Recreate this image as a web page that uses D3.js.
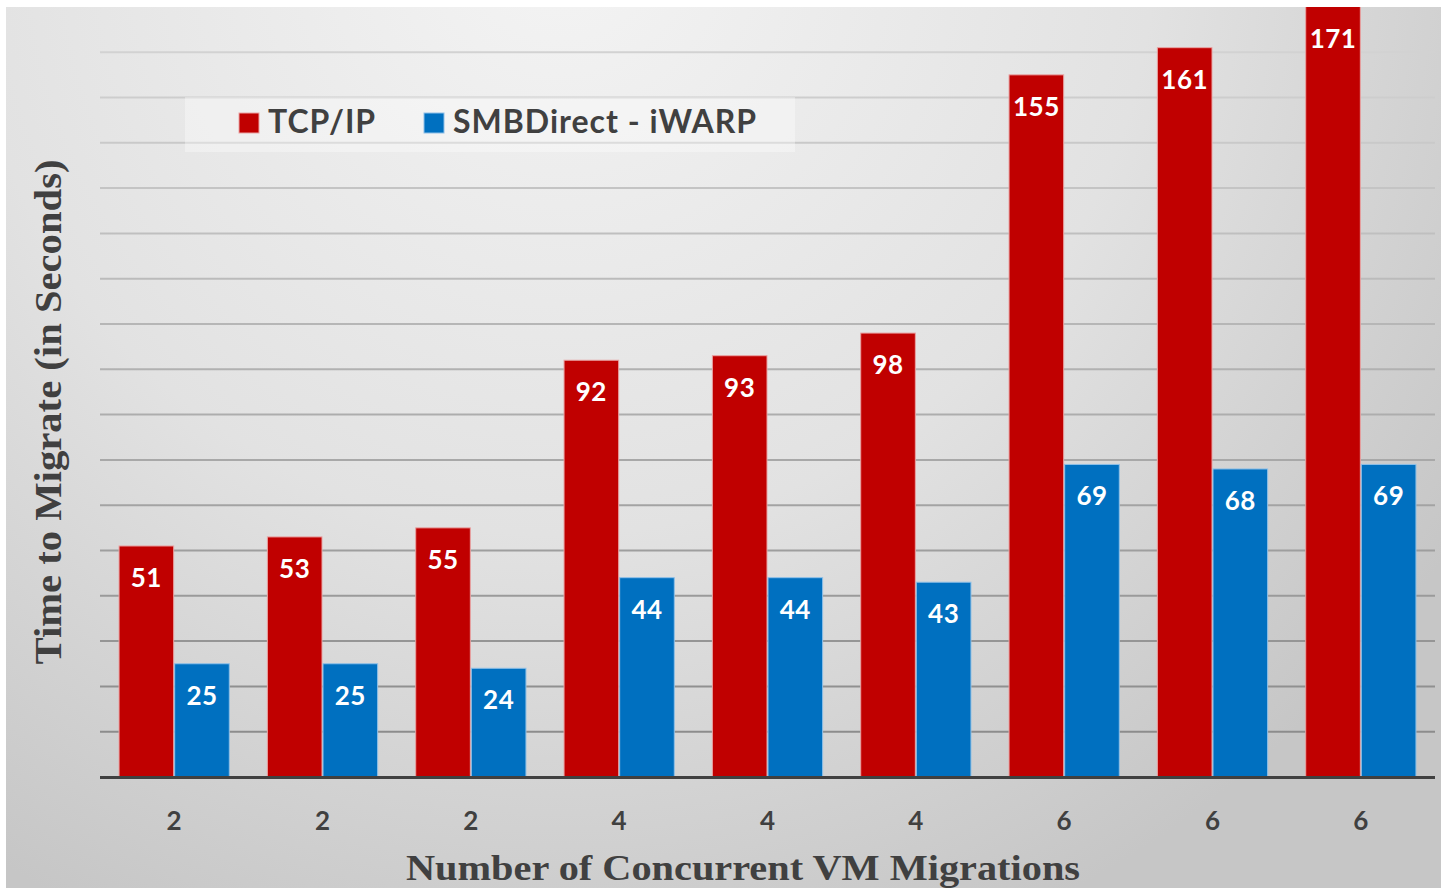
<!DOCTYPE html>
<html>
<head>
<meta charset="utf-8">
<script src="https://cdn.jsdelivr.net/npm/d3@7"></script>
<style>
  body { margin: 0; background: #fff; }
  svg { display: block; }
</style>
</head>
<body>
<div id="chart"></div>
<script>
// data
const categories = ["2", "2", "2", "4", "4", "4", "6", "6", "6"];
const tcpValues = [51, 53, 55, 92, 93, 98, 155, 161, 171];
const smbValues = [25, 25, 24, 44, 44, 43, 69, 68, 69];
const seriesNames = ["TCP/IP", "SMBDirect - iWARP"];
const seriesColors = ["#C00000", "#0070C0"];
const seriesStrokes = ["#e9a3a3", "#8fc0e8"];

const width = 1447, height = 888;
const left = 100, right = 1435, bottom = 777;

const svg = d3.select("#chart")
    .append("svg")
    .attr("width", width)
    .attr("height", height);

const defs = svg.append("defs");
const bg = defs.append("radialGradient")
    .attr("id", "bg")
    .attr("gradientUnits", "userSpaceOnUse")
    .attr("cx", 560).attr("cy", -60)
    .attr("r", 1080);
bg.append("stop").attr("offset", 0).attr("stop-color", "#f4f4f4");
bg.append("stop").attr("offset", 0.55).attr("stop-color", "#e2e2e2");
bg.append("stop").attr("offset", 1).attr("stop-color", "#c6c6c6");

defs.append("clipPath").attr("id", "area")
    .append("rect")
    .attr("x", 6).attr("y", 7)
    .attr("width", 1435).attr("height", height - 7);

svg.append("rect")
    .attr("x", 6).attr("y", 7)
    .attr("width", 1435).attr("height", height - 7)
    .attr("fill", "url(#bg)");

const g = svg.append("g").attr("clip-path", "url(#area)");

const x0 = d3.scaleBand()
    .domain(d3.range(categories.length))
    .range([left, right])
    .paddingInner(0.25)
    .paddingOuter(0.125);

const x1 = d3.scaleBand()
    .domain([0, 1])
    .range([0, x0.bandwidth()]);

const y = d3.scaleLinear()
    .domain([0, 170])
    .range([bottom, bottom - 170 * 4.53]);

// gridlines
const gridColor = d3.interpolateRgb("#878787", "#d2d2d2");
g.append("g")
    .selectAll("line")
    .data(y.ticks(17).filter(d => d > 0 && d < 170))
    .enter()
    .append("line")
    .attr("x1", left).attr("x2", right)
    .attr("y1", d => y(d)).attr("y2", d => y(d))
    .attr("stroke", d => gridColor(d / 160))
    .attr("stroke-width", 2);

// legend box
svg.append("rect")
    .attr("x", 185).attr("y", 97)
    .attr("width", 610).attr("height", 55)
    .attr("fill", "rgba(255,255,255,0.35)");

const rows = categories.map((c, i) => ({ i: i, values: [tcpValues[i], smbValues[i]] }));

const groups = g.selectAll("g.grp")
    .data(rows)
    .enter()
    .append("g")
    .attr("class", "grp")
    .attr("transform", d => `translate(${x0(d.i)},0)`);

groups.selectAll("rect")
    .data(d => d.values.map((v, s) => ({ s: s, v: v })))
    .enter()
    .append("rect")
    .attr("x", d => x1(d.s) + 0.5)
    .attr("width", x1.bandwidth() - 1)
    .attr("y", d => y(d.v))
    .attr("height", d => bottom - y(d.v))
    .attr("fill", d => seriesColors[d.s])
    .attr("stroke", d => seriesStrokes[d.s])
    .attr("stroke-width", 1);

groups.selectAll("text")
    .data(d => d.values.map((v, s) => ({ s: s, v: v })))
    .enter()
    .append("text")
    .attr("x", d => x1(d.s) + x1.bandwidth() / 2)
    .attr("y", d => Math.max(y(d.v), 7) + 41)
    .attr("text-anchor", "middle")
    .attr("font-family", "Lato, 'Open Sans', sans-serif")
    .attr("font-weight", 700)
    .attr("font-size", 26)
    .attr("letter-spacing", 0.5)
    .attr("fill", "#fff")
    .text(d => d.v);

// x axis
const xAxis = svg.append("g")
    .attr("transform", `translate(0,${bottom})`)
    .call(d3.axisBottom(x0).tickFormat(i => categories[i]).tickSize(0).tickPadding(0));
xAxis.select(".domain").remove();
xAxis.selectAll("text")
    .attr("y", 53)
    .attr("dy", null)
    .attr("font-family", "Lato, 'Open Sans', sans-serif")
    .attr("font-weight", 700)
    .attr("font-size", 26)
    .attr("fill", "#404040");

svg.append("line")
    .attr("x1", left).attr("x2", right)
    .attr("y1", bottom + 0.5).attr("y2", bottom + 0.5)
    .attr("stroke", "#404040")
    .attr("stroke-width", 3);

// titles
svg.append("text")
    .attr("x", 743).attr("y", 880)
    .attr("text-anchor", "middle")
    .attr("font-family", "'Liberation Serif', 'DejaVu Serif', serif")
    .attr("font-weight", 700)
    .attr("font-size", 36)
    .attr("fill", "#404040")
    .attr("textLength", 674)
    .attr("lengthAdjust", "spacingAndGlyphs")
    .text("Number of Concurrent VM Migrations");

svg.append("text")
    .attr("transform", "translate(61,412) rotate(-90)")
    .attr("text-anchor", "middle")
    .attr("font-family", "'Liberation Serif', 'DejaVu Serif', serif")
    .attr("font-weight", 700)
    .attr("font-size", 37)
    .attr("fill", "#404040")
    .attr("textLength", 505)
    .attr("lengthAdjust", "spacingAndGlyphs")
    .text("Time to Migrate (in Seconds)");

// legend
const legendX = [239, 424];
const legend = svg.selectAll("g.leg")
    .data(seriesNames)
    .enter()
    .append("g")
    .attr("class", "leg")
    .attr("transform", (d, i) => `translate(${legendX[i]},113)`);

legend.append("rect")
    .attr("width", 20).attr("height", 20)
    .attr("fill", (d, i) => seriesColors[i])
    .attr("stroke", (d, i) => seriesStrokes[i])
    .attr("stroke-width", 1);

legend.append("text")
    .attr("x", 29).attr("y", 20)
    .attr("font-family", "Lato, 'Open Sans', sans-serif")
    .attr("font-weight", 700)
    .attr("font-size", 32)
    .attr("letter-spacing", 1)
    .attr("fill", "#404040")
    .text(d => d);
</script>
</body>
</html>
